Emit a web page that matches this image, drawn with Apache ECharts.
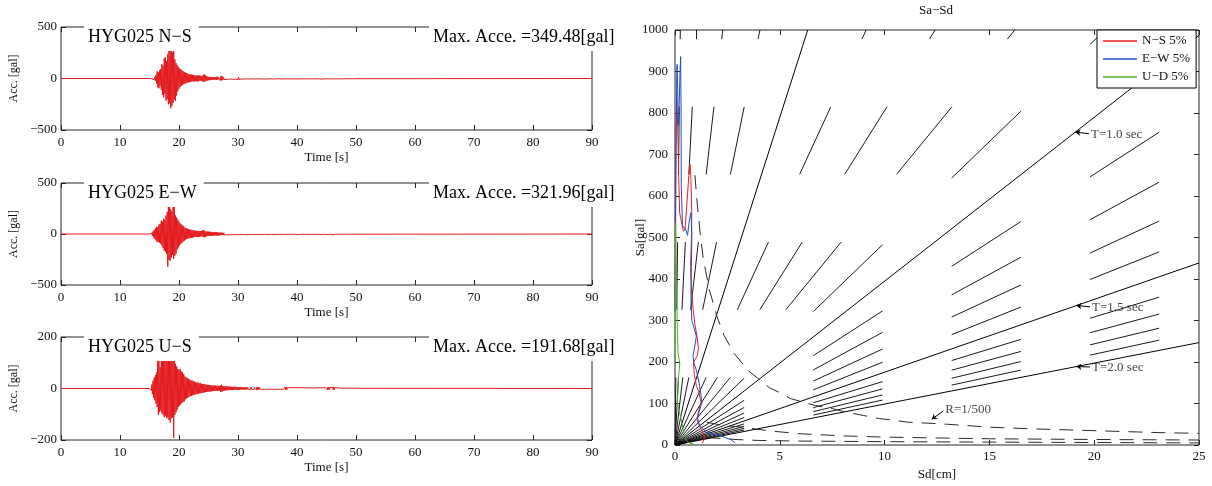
<!DOCTYPE html>
<html>
<head>
<meta charset="utf-8">
<script src="https://cdn.jsdelivr.net/npm/echarts@6/dist/echarts.min.js"></script>
<style>
  html, body { margin: 0; padding: 0; background: #fff; }
  #chart { width: 1212px; height: 486px; }
</style>
</head>
<body>
<div id="chart"></div>
<script>
// ---------- Zeitverläufe (Beschleunigung, dt = 0.1 s ab 15.0 s) ----------
const timeStart = 15.0;
const timeStep = 0.1;
const timeEnd = 90;

const accNS = [
  0, 1, -1, 2, -3, 4, -6, 9, -12, 15,
  -22, 35, -48, 70, -85, 60, -95, 82, -70, 92,
  -110, 140, -160, 125, -185, 195, -150, 205, -215, 170,
  -200, 235, -250, 285, -240, 275, -290, 340, -265, 255,
  -235, 270, -205, 185, -215, 150, -165, 130, -125, 112,
  -100, 96, -82, 90, -72, 78, -62, 70, -56, 62,
  -50, 56, -46, 52, -40, 46, -38, 42, -35, 40,
  -32, 38, -30, 36, -28, 33, -30, 28, -25, 30,
  -28, 26, -30, 32, -25, 28, -22, 26, -20, 24,
  -30, 36, -32, 38, -28, 30, -25, 22, -20, 18,
  -18, 16, -15, 14, -16, 12, -14, 15, -12, 13,
  -12, 14, -10, 16, -14, 18, -12, 10, -9, 11,
  -20, 22, -18, 24, -15, 12, -10, 9, -11, 8,
  -9, 10, -8, 9, -7, 8, -9, 7, -6, 8,
  -7, 6, -8, 7, -5, 6, -7, 5, -6, 7,
  -12, 14, -10, 8, -6, 7, -5, 6, -4, 5,
  -5, 4, -6, 5, -4, 5, -3, 4, -5, 4,
  -4, 5, -3, 4, -5, 3, -4, 5, -3, 4,
  -5, 4, -4, 6, -3, 4, -5, 3, -4, 3,
  -3, 4, -5, 4, -3, 5, -4, 3, -4, 5,
  -6, 7, -5, 4, -3, 4, -5, 3, -4, 3,
  -4, 3, -5, 4, -3, 4, -3, 5, -4, 3,
  -3, 4, -4, 3, -5, 4, -3, 3, -4, 4,
  -4, 5, -3, 4, -3, 3, -4, 3, -3, 4,
  -3, 4, -5, 6, -4, 3, -3, 4, -3, 3,
  -6, 8, -5, 4, -3, 4, -4, 3, -3, 4,
  -3, 4, -3, 3, -4, 3, -3, 4, -3, 3,
  -4, 3, -3, 4, -3, 3, -4, 3, -3, 4,
  -3, 3, -4, 3, -3, 4, -3, 3, -4, 3,
  -5, 7, -6, 4, -3, 3, -4, 3, -3, 3,
  -3, 4, -3, 3, -4, 3, -3, 4, -3, 3,
  -4, 3, -5, 6, -4, 3, -3, 4, -3, 3,
  -3, 4, -3, 3, -4, 3, -3, 3, -2, 3,
  -3, 2, -3, 3, -2, 3, -2, 2, -3, 2,
  -2, 3, -2, 2, -3, 2, -2, 3, -2, 0
];

const accEW = [
  0, -2, 3, -5, 10, -18, 25, -32, 40, -48,
  55, -62, 70, -80, 66, -76, 92, -86, 100, -96,
  130, -112, 122, -140, 152, -162, 140, -172, 182, -195,
  215, -320, 305, -255, 285, -262, 242, -232, 222, -205,
  315, -242, 292, -212, 182, -192, 162, -152, 142, -132,
  122, -112, 102, -96, 92, -86, 82, -72, 76, -66,
  62, -56, 58, -50, 52, -46, 48, -42, 45, -40,
  42, -38, 40, -35, 36, -32, 34, -30, 32, -28,
  30, -28, 32, -30, 28, -26, 30, -25, 27, -24,
  36, -30, 38, -33, 30, -28, 25, -22, 24, -20,
  22, -20, 24, -18, 20, -17, 18, -16, 19, -15,
  18, -16, 17, -15, 20, -18, 16, -14, 15, -13,
  14, -12, 13, -11, 12, -10, 11, -9, 10, -9,
  9, -8, 10, -8, 8, -7, 9, -7, 8, -7,
  8, -7, 7, -6, 8, -7, 6, -6, 7, -6,
  7, -6, 6, -7, 6, -5, 7, -6, 5, -5,
  12, -10, 9, -8, 6, -5, 6, -5, 5, -5,
  6, -5, 5, -4, 6, -5, 4, -5, 5, -4,
  5, -4, 5, -5, 4, -4, 5, -4, 4, -4,
  4, -5, 4, -4, 5, -3, 4, -4, 3, -4,
  7, -8, 6, -5, 4, -4, 5, -3, 4, -4,
  6, -5, 4, -4, 3, -4, 4, -3, 4, -3,
  4, -3, 4, -4, 3, -3, 4, -3, 3, -4,
  3, -4, 3, -3, 4, -3, 3, -3, 4, -3,
  3, -3, 4, -3, 3, -4, 3, -3, 3, -3,
  7, -6, 5, -4, 4, -3, 3, -4, 3, -3,
  4, -3, 3, -4, 3, -3, 4, -3, 3, -3,
  3, -3, 4, -3, 3, -3, 3, -4, 3, -3,
  3, -4, 3, -3, 4, -3, 3, -3, 3, -3,
  5, -6, 6, -4, 4, -3, 4, -3, 3, -4,
  4, -3, 5, -4, 3, -3, 4, -3, 3, -3,
  5, -6, 4, -4, 5, -3, 4, -3, 3, -3,
  3, -3, 3, -2, 3, -3, 2, -2, 3, -2,
  2, -2, 3, -2, 2, -2, 2, -3, 2, -2,
  2, -2, 2, -2, 2, -2, 2, -2, 2, 0
];

const accUD = [
  0, -3, 5, -8, 15, -22, 30, -36, 42, -46,
  52, -58, 62, -72, 135, -102, 112, -92, 82, -86,
  112, -96, 132, -102, 122, -112, 128, -106, 132, -116,
  126, -112, 132, -122, 136, -132, 122, -116, 126, -112,
  132, -192, 112, -102, 96, -92, 86, -82, 76, -72,
  72, -66, 76, -62, 66, -56, 62, -52, 56, -50,
  46, -42, 44, -38, 40, -36, 38, -32, 35, -30,
  30, -28, 32, -26, 28, -25, 27, -24, 25, -22,
  22, -20, 24, -21, 20, -18, 22, -19, 18, -17,
  18, -16, 17, -15, 16, -14, 15, -13, 14, -13,
  14, -12, 13, -12, 12, -11, 13, -10, 11, -10,
  12, -10, 11, -9, 10, -9, 11, -8, 10, -8,
  12, -14, 15, -12, 10, -9, 8, -8, 9, -7,
  8, -7, 8, -7, 7, -6, 8, -6, 7, -6,
  7, -6, 6, -6, 7, -5, 6, -5, 6, -5,
  6, -5, 5, -5, 6, -4, 5, -5, 4, -4,
  5, -4, 5, -4, 4, -4, 5, -3, 4, -4,
  4, -4, 5, -3, 4, -4, 3, -4, 4, -3,
  7, -6, 6, -5, 4, -4, 5, -3, 4, -3,
  4, -3, 4, -4, 3, -3, 4, -3, 3, -3,
  3, -4, 3, -3, 4, -3, 3, -3, 4, -3,
  4, -3, 3, -3, 4, -3, 3, -4, 3, -3,
  3, -3, 4, -3, 3, -3, 3, -3, 4, -3,
  6, -5, 6, -4, 4, -3, 3, -3, 3, -3,
  3, -3, 3, -3, 4, -3, 3, -3, 3, -3,
  3, -3, 4, -3, 3, -3, 3, -2, 3, -3,
  3, -2, 3, -3, 2, -3, 3, -2, 3, -2,
  2, -3, 3, -2, 3, -2, 2, -3, 2, -2,
  3, -2, 2, -3, 2, -2, 3, -2, 2, -2,
  3, -3, 4, -3, 3, -2, 3, -2, 3, -3,
  6, -5, 5, -4, 6, -5, 4, -3, 4, -3,
  5, -4, 6, -5, 4, -3, 3, -2, 2, -2,
  2, -2, 2, -1, 2, -2, 1, -1, 2, -1,
  1, -1, 2, -1, 1, -1, 1, -1, 1, -1,
  1, -1, 1, -1, 1, -1, 1, -1, 1, 0
];

const stationLabels = ['HYG025 N\u2212S', 'HYG025 E\u2212W', 'HYG025 U\u2212S'];
const maxAcce = ['349.48', '321.96', '191.68'];
const accLimits = [500, 500, 200];

// ---------- Sa-Sd Spektren (5% Dämpfung) ----------
const spectraNames = ['N\u2212S 5%', 'E\u2212W 5%', 'U\u2212D 5%'];

const sdNS = [0, 0.01, 0.02, 0.03, 0.05, 0.08, 0.11, 0.14, 0.16, 0.18,
  0.22, 0.28, 0.34, 0.40, 0.48, 0.58, 0.66, 0.72, 0.76, 0.80,
  0.78, 0.74, 0.78, 0.86, 0.95, 1.05, 1.12, 1.06, 0.95, 0.88,
  0.92, 1.02, 1.15, 1.24, 1.12, 1.04, 1.10, 1.22, 1.32, 1.40,
  1.38, 1.30];
const saNS = [349, 430, 540, 660, 770, 835, 800, 740, 702, 640,
  560, 545, 530, 515, 520, 590, 650, 676, 640, 560,
  488, 428, 380, 330, 290, 262, 231, 215, 205, 198,
  170, 143, 126, 102, 80, 62, 55, 40, 30, 22,
  12, 5];

const sdEW = [0, 0.02, 0.04, 0.06, 0.08, 0.10, 0.13, 0.16, 0.20, 0.24,
  0.27, 0.29, 0.30, 0.36, 0.44, 0.52, 0.60, 0.68, 0.76, 0.80,
  0.80, 0.78, 0.76, 0.80, 0.92, 1.02, 0.95, 0.86, 0.90, 1.02,
  1.15, 1.24, 1.28, 1.18, 1.08, 1.16, 1.32, 1.50, 1.75, 2.06,
  2.40, 2.70, 2.87];
const saEW = [322, 450, 610, 770, 880, 917, 850, 770, 820, 900,
  936, 800, 620, 528, 528, 518, 505, 540, 560, 520,
  488, 430, 360, 300, 280, 262, 240, 215, 198, 180,
  150, 120, 102, 85, 65, 48, 40, 31, 27, 24,
  18, 12, 5];

const sdUD = [0, 0.01, 0.02, 0.03, 0.04, 0.06, 0.08, 0.10, 0.12, 0.15,
  0.20, 0.23, 0.18, 0.14, 0.12, 0.18, 0.25, 0.32, 0.38, 0.45,
  0.53, 0.62, 0.72, 0.88];
const saUD = [192, 300, 420, 535, 500, 440, 380, 320, 260, 220,
  205, 198, 170, 140, 102, 85, 71, 55, 40, 25,
  12, 7, 4, 3];

// gestrichelte Kurven (R=1/500 und zwei niedrigere)
const sdR500 = [0.95, 1.05, 1.2, 1.35, 1.63, 2.0, 2.34, 2.82, 3.5, 3.97,
  4.5, 5.0, 5.5, 6.0, 6.7, 7.5, 8.0, 9.0, 9.7, 10.4,
  11.1, 12.3, 13.0, 15.0, 17.0, 19.0, 21.0, 23.0, 25.0];
const saR500 = [650, 588, 510, 448, 376, 310, 264, 221, 179, 160,
  138, 126, 112, 105, 95, 88, 81, 71, 64, 60,
  55, 52, 50, 43, 39, 36, 33, 30, 28];
const sdLow1 = [1.5, 2.2, 3.0, 3.5, 4.5, 6.0, 8.0, 10.0, 12.5, 15.0, 18.0, 21.0, 25.0];
const saLow1 = [55, 48, 44, 41, 34, 27, 22, 19, 17, 15, 14, 13, 12];
const sdLow2 = [1.5, 3.0, 4.0, 6.0, 10.0, 15.0, 20.0, 25.0];
const saLow2 = [18, 13, 11, 9.5, 8, 7, 6, 5];

// Periodenlinien
const periods = [0.1, 0.2, 0.3, 0.4, 0.5, 0.6, 0.7, 0.8, 0.9, 1.0,
  1.1, 1.2, 1.3, 1.4, 1.5, 1.6, 1.7, 1.8, 1.9, 2.0];
const solidPeriods = [0.5, 1.0, 1.5, 2.0];

const SD_MAX = 25, SA_MAX = 1000;
const SD_DASH = 3.3, SA_DASH = 163;   // Raster der Strichmuster

// ---------------------------------------------------------------
const serif = 'Liberation Serif';
const frame = '#262626';
const waveRed = '#e3191c';
const omega2 = T => Math.pow(2 * Math.PI / T, 2);

const wave = acc => {
  const pts = [[0, 0]];
  acc.forEach((a, i) => pts.push([+(timeStart + i * timeStep).toFixed(2), a]));
  pts.push([timeEnd, 0]);
  return pts;
};
const pairs = (xs, ys) => xs.map((x, i) => [x, ys[i]]);

const periodSegments = (T, solid) => {
  const w2 = omega2(T);
  const k = w2 * SD_DASH / SA_DASH;
  const uMax = Math.min(SD_MAX / SD_DASH, SA_MAX / SA_DASH / k);
  const pt = u => [u * SD_DASH, u * SD_DASH * w2];
  if (solid) return [{ coords: [pt(0), pt(uMax)] }];
  const s = Math.max(1, k), segs = [];
  for (let j = 0; j / s < uMax; j += 2) {
    segs.push({ coords: [pt(j / s), pt(Math.min((j + 1) / s, uMax))] });
  }
  return segs;
};

const panelTops = [27, 183, 337];
const panelHeights = [103, 102, 103];
const grids = [], xAxes = [], yAxes = [], titles = [], series = [];
const minus = v => String(v).replace('-', '\u2212');
const lbl = { fontFamily: serif, fontSize: 13, color: '#111' };
const tick = { inside: true, length: 5, lineStyle: { color: frame } };
const noLine = { show: false, onZero: false };

// ---------- linke Seite: drei Zeitverläufe ----------
[accNS, accEW, accUD].forEach((acc, i) => {
  grids.push({ left: 61, top: panelTops[i], width: 531, height: panelHeights[i],
    show: true, borderColor: frame, borderWidth: 1, backgroundColor: 'transparent' });
  xAxes.push({ gridIndex: i, type: 'value', min: 0, max: 90, interval: 10,
    axisLine: noLine, axisTick: tick, splitLine: { show: false },
    axisLabel: Object.assign({ margin: 6 }, lbl),
    name: 'Time [s]', nameLocation: 'middle', nameGap: 21, nameMoveOverlap: false,
    nameTextStyle: { fontFamily: serif, fontSize: 13, color: '#111' } });
  xAxes.push({ gridIndex: i, type: 'value', position: 'top', min: 0, max: 90, interval: 10,
    axisLine: noLine, axisTick: tick, axisLabel: { show: false }, splitLine: { show: false } });
  const lim = accLimits[i];
  yAxes.push({ gridIndex: i, type: 'value', min: -lim, max: lim, interval: lim,
    axisLine: noLine, axisTick: tick, splitLine: { show: false },
    axisLabel: Object.assign({ margin: 4, formatter: minus }, lbl),
    name: 'Acc. [gal]', nameLocation: 'middle', nameGap: 41, nameRotate: 90, nameMoveOverlap: false,
    nameTextStyle: { fontFamily: serif, fontSize: 12, color: '#111' } });
  yAxes.push({ gridIndex: i, type: 'value', position: 'right', min: -lim, max: lim, interval: lim,
    axisLine: noLine, axisTick: tick, axisLabel: { show: false }, splitLine: { show: false } });

  series.push({ type: 'line', xAxisIndex: 2 * i, yAxisIndex: 2 * i, data: wave(acc),
    symbol: 'none', lineStyle: { color: waveRed, width: 1 }, silent: true, z: 2 });

  const tStyle = { fontFamily: serif, fontSize: 18, fontWeight: 'normal', color: '#000' };
  titles.push({ text: stationLabels[i], left: 84, top: panelTops[i] - 3,
    padding: [4, 7, 5, 4], backgroundColor: '#fff', textStyle: tStyle });
  titles.push({ text: 'Max. Acce. =' + maxAcce[i] + '[gal]', left: 429, top: panelTops[i] - 3,
    padding: [4, 8, 5, 4], backgroundColor: '#fff', textStyle: tStyle });
});

// ---------- rechte Seite: Sa-Sd ----------
const g = 3;
grids.push({ left: 675, top: 30, width: 524, height: 420,
  show: true, borderColor: frame, borderWidth: 1, backgroundColor: 'transparent' });
xAxes.push({ gridIndex: g, type: 'value', min: 0, max: SD_MAX, interval: 5,
  axisLine: noLine, axisTick: tick, splitLine: { show: false },
  axisLabel: Object.assign({ margin: 5 }, lbl),
  name: 'Sd[cm]', nameLocation: 'middle', nameGap: 23, nameMoveOverlap: false,
  nameTextStyle: { fontFamily: serif, fontSize: 13, color: '#111' } });
xAxes.push({ gridIndex: g, type: 'value', position: 'top', min: 0, max: SD_MAX, interval: 5,
  axisLine: noLine, axisTick: tick, axisLabel: { show: false }, splitLine: { show: false } });
yAxes.push({ gridIndex: g, type: 'value', min: 0, max: SA_MAX, interval: 100,
  axisLine: noLine, axisTick: tick, splitLine: { show: false },
  axisLabel: Object.assign({ margin: 7, formatter: v => String(v) }, lbl),
  name: 'Sa[gal]', nameLocation: 'middle', nameGap: 28, nameRotate: 90, nameMoveOverlap: false,
  nameTextStyle: { fontFamily: serif, fontSize: 13, color: '#111' } });
yAxes.push({ gridIndex: g, type: 'value', position: 'right', min: 0, max: SA_MAX, interval: 100,
  axisLine: noLine, axisTick: tick, axisLabel: { show: false }, splitLine: { show: false } });

const xi = 2 * g, yi = 2 * g;

// Periodenlinien: gestrichelte Schar + durchgezogene T=0.5/1.0/1.5/2.0
series.push({ type: 'lines', coordinateSystem: 'cartesian2d', xAxisIndex: xi, yAxisIndex: yi,
  polyline: false, silent: true, z: 1,
  lineStyle: { color: '#1a1a1a', width: 1, opacity: 1 },
  data: periods.filter(T => solidPeriods.indexOf(T) < 0).flatMap(T => periodSegments(T, false)) });
series.push({ type: 'lines', coordinateSystem: 'cartesian2d', xAxisIndex: xi, yAxisIndex: yi,
  polyline: false, silent: true, z: 1,
  lineStyle: { color: '#000', width: 1, opacity: 1 },
  data: solidPeriods.flatMap(T => periodSegments(T, true)) });

// gestrichelte Kurven
[[sdR500, saR500], [sdLow1, saLow1], [sdLow2, saLow2]].forEach(([xs, ys]) => {
  series.push({ type: 'line', xAxisIndex: xi, yAxisIndex: yi, data: pairs(xs, ys),
    symbol: 'none', silent: true, z: 2,
    lineStyle: { color: '#2a2a2a', width: 1, type: [14, 9] } });
});

// Spektren
const spectraColors = ['#ec1c24', '#1f4fc4', '#4caf2a'];
[[sdNS, saNS], [sdEW, saEW], [sdUD, saUD]].forEach(([xs, ys], i) => {
  series.push({ name: spectraNames[i], type: 'line', xAxisIndex: xi, yAxisIndex: yi,
    data: pairs(xs, ys), symbol: 'none', silent: true, z: 3,
    lineStyle: { color: spectraColors[i], width: 1 }, itemStyle: { color: spectraColors[i] } });
});

// Beschriftungen mit kleinen Pfeilen
const notes = [
  { text: 'T=1.0 sec', at: [19.8, 748], tipSd: 19.1, T: 1.0 },
  { text: 'T=1.5 sec', at: [19.85, 331], tipSd: 19.15, T: 1.5 },
  { text: 'T=2.0 sec', at: [19.85, 186], tipSd: 19.15, T: 2.0 },
  { text: 'R=1/500', at: [12.85, 86], tip: [12.25, 62] }
];
series.push({ type: 'scatter', xAxisIndex: xi, yAxisIndex: yi, symbolSize: 0, silent: true, z: 5,
  data: notes.map(n => ({ value: n.at, label: { formatter: n.text } })),
  label: { show: true, position: 'right', distance: 1, fontFamily: serif, fontSize: 13, color: '#111' },
  markLine: { silent: true, symbol: ['none', 'arrow'], symbolSize: 5, animation: false,
    lineStyle: { color: '#000', width: 1, type: 'solid' }, label: { show: false },
    data: notes.map(n => {
      const tip = n.tip || [n.tipSd, omega2(n.T) * n.tipSd];
      return [{ coord: [n.at[0] - 0.05, n.at[1] + (n.tip ? -4 : 2)] }, { coord: tip }];
    }) } });

titles.push({ text: 'Sa\u2212Sd', left: 919, top: 4, padding: 0,
  textStyle: { fontFamily: serif, fontSize: 13, fontWeight: 'normal', color: '#111' } });

const chart = echarts.init(document.getElementById('chart'));
chart.setOption({
  animation: false,
  backgroundColor: '#fff',
  title: titles,
  grid: grids,
  xAxis: xAxes,
  yAxis: yAxes,
  legend: {
    data: spectraNames, orient: 'vertical', left: 1097, top: 30,
    icon: 'rect', itemWidth: 34, itemHeight: 1.5, itemGap: 4, padding: [4, 6, 4, 6],
    borderColor: '#000', borderWidth: 1, borderRadius: 0, backgroundColor: '#fff',
    textStyle: { fontFamily: serif, fontSize: 13, color: '#111', lineHeight: 14 }, selectedMode: false
  },
  series: series
});
</script>
</body>
</html>
